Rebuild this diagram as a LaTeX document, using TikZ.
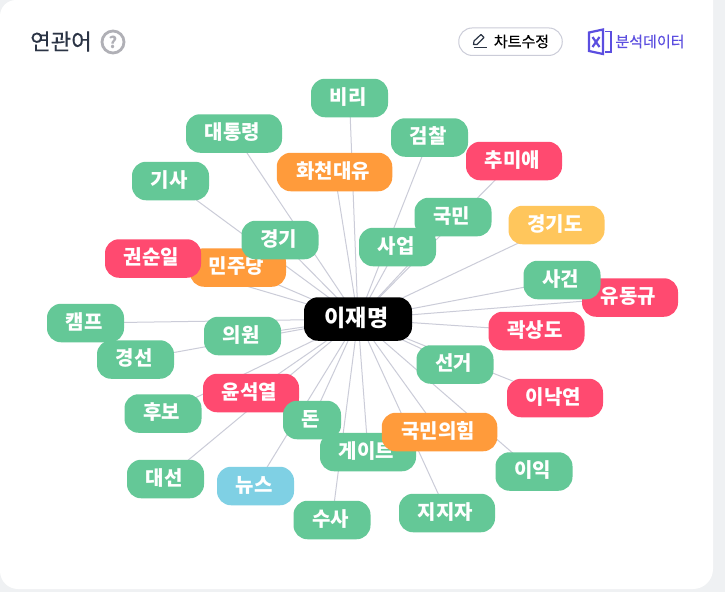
\documentclass[tikz,border=0pt]{standalone}
\usepackage{fontspec}
\setmainfont{Noto Sans CJK KR}
\newfontfamily\titlefont[FakeBold=0.4]{Noto Sans CJK KR}
\newfontfamily\smallfont[FakeBold=0.2]{Noto Sans CJK KR}
\usetikzlibrary{backgrounds}
\definecolor{pagebg}{HTML}{EFF1F3}
\definecolor{cgreen}{HTML}{64C897}
\definecolor{corange}{HTML}{FF9B3B}
\definecolor{cred}{HTML}{FF4A70}
\definecolor{cyellow}{HTML}{FFC65C}
\definecolor{csky}{HTML}{7FD0E4}
\definecolor{cline}{HTML}{CBCCD8}
\definecolor{ctitle}{HTML}{2B3445}
\definecolor{cgrayq}{HTML}{B0B0B6}
\definecolor{cviolet}{HTML}{5B4EE0}
\newcommand\kwt[1]{\makebox[0pt]{\hspace*{-3pt}\smash{\raisebox{-6pt}{#1}}}}
\newcommand\kwc[1]{\makebox[0pt]{\hspace*{-3pt}\smash{\raisebox{-7.2pt}{#1}}}}
\tikzset{
  kw/.style={rounded corners=14pt,minimum height=38.5pt,inner sep=0pt,text=white,
    font=\fontsize{20}{20}\selectfont\bfseries,anchor=center},
  two/.style={kw,minimum width=77pt},
  three/.style={kw,minimum width=96pt},
  four/.style={kw,minimum width=115.5pt},
  one/.style={kw,minimum width=58pt},
  lnk/.style={draw=cline,line width=1pt},
}
\begin{document}
\begin{tikzpicture}[x=1pt,y=-1pt]
\useasboundingbox (0,0) rectangle (725,592);
% nodes
\node[two,fill=cgreen] (biri) at (349.5,98) {\kwt{비리}};
\node[three,fill=cgreen] (daet) at (234,133.5) {\kwt{대통령}};
\node[four,fill=corange] (hwa) at (334.5,172) {\kwt{화천대유}};
\node[two,fill=cgreen] (geom) at (429.5,137.5) {\kwt{검찰}};
\node[three,fill=cred] (chu) at (514,161) {\kwt{추미애}};
\node[two,fill=cgreen] (gisa) at (170.5,181) {\kwt{기사}};
\node[two,fill=cgreen] (gukm) at (453,217) {\kwt{국민}};
\node[three,fill=cyellow] (ggd) at (556.5,225) {\kwt{경기도}};
\node[two,fill=cgreen] (saeop) at (397.5,247) {\kwt{사업}};
\node[three,fill=corange] (minj) at (238,267.5) {\kwt{민주당}};
\node[two,fill=cgreen] (gg) at (280,240) {\kwt{경기}};
\node[three,fill=cred] (gwon) at (153,258.5) {\kwt{권순일}};
\node[three,fill=cred] (yoo) at (630,297.5) {\kwt{유동규}};
\node[two,fill=cgreen] (sag) at (562,280) {\kwt{사건}};
\node[two,fill=cgreen] (camp) at (85.5,323) {\kwt{캠프}};
\node[two,fill=cgreen] (uiw) at (242.5,336) {\kwt{의원}};
\node[two,fill=cgreen] (gs) at (135.5,359.5) {\kwt{경선}};
\node[three,fill=cred] (gwak) at (536.5,331) {\kwt{곽상도}};
\node[two,fill=cgreen] (seon) at (455,364.5) {\kwt{선거}};
\node[three,fill=cred] (yun) at (251,393) {\kwt{윤석열}};
\node[two,fill=cgreen] (hubo) at (163,413.5) {\kwt{후보}};
\node[three,fill=cred] (lee) at (555,398) {\kwt{이낙연}};
\node[three,fill=cgreen] (gate) at (368,452) {\kwt{게이트}};
\node[one,fill=cgreen] (don) at (312,420) {\kwt{돈}};
\node[four,fill=corange] (ppp) at (439.5,432) {\kwt{국민의힘}};
\node[two,fill=cgreen] (iik) at (534,471.5) {\kwt{이익}};
\node[two,fill=cgreen] (ds) at (165.5,479) {\kwt{대선}};
\node[two,fill=csky] (news) at (255.5,486) {\kwt{뉴스}};
\node[three,fill=cgreen] (jjj) at (447,513) {\kwt{지지자}};
\node[two,fill=cgreen] (susa) at (332,520) {\kwt{수사}};
\node[kw,fill=black,minimum width=108pt,minimum height=43.5pt,font=\fontsize{23}{23}\selectfont\bfseries] (center) at (358,319) {\kwc{이재명}};
% header
\node[anchor=center,text=ctitle,font=\fontsize{22.3}{23}\titlefont] (title) at (61,41.5) {연관어};
\node[circle,draw=cgrayq,line width=2.8pt,minimum size=22pt,inner sep=0pt,text=cgrayq,font=\fontsize{16}{16}\selectfont\bfseries] (help) at (113,42) {?};
\node[draw=cline,fill=white,line width=1pt,rounded corners=13.5pt,minimum width=103.5pt,minimum height=27.5pt,inner sep=0pt] (btn) at (510.5,41.7) {};
\node[anchor=center,text=black,font=\fontsize{15}{15}\smallfont] (btntxt) at (521.5,41.5) {차트수정};
\node[anchor=center,text=cviolet,font=\fontsize{15}{15}\smallfont] (xls) at (650,41.5) {분석데이터};
% pencil icon
\draw[ctitle,line width=1.2pt,line join=round] (473.5,44.5) -- (474,41) -- (481,34.5) -- (484,37.5) -- (477,44.5) -- cycle;
\draw[ctitle,line width=1.2pt] (473.5,47.5) -- (486.5,47.5);
% excel icon
\draw[cviolet,line width=2.2pt,line join=miter] (589,32.5) -- (603,29.5) -- (603,54) -- (589,51) -- cycle;
\draw[cviolet,line width=1.8pt] (605,31.5) -- (611,31.5) -- (611,52) -- (605,52);
\draw[cviolet,line width=2.2pt] (592.5,37) -- (599.5,47) (599.5,37) -- (592.5,47);
% background and links
\begin{scope}[on background layer]
\fill[pagebg] (0,0) rectangle (725,592);
\fill[white] (-20,-20) -- (693,-20) arc[start angle=90,end angle=0,radius=20] -- (713,569) arc[start angle=0,end angle=90,radius=20] -- (18,589) arc[start angle=90,end angle=180,radius=18] -- (0,16) arc[start angle=180,end angle=270,radius=16] -- cycle;
\end{scope}
\begin{scope}[on background layer]
\foreach \n in {biri,daet,hwa,geom,chu,gisa,gukm,ggd,saeop,minj,gg,gwon,yoo,sag,camp,uiw,gs,gwak,seon,yun,hubo,lee,gate,don,ppp,iik,ds,news,jjj,susa}
  \draw[lnk] (\n.center) -- (center.center);
\end{scope}
\end{tikzpicture}
\end{document}
